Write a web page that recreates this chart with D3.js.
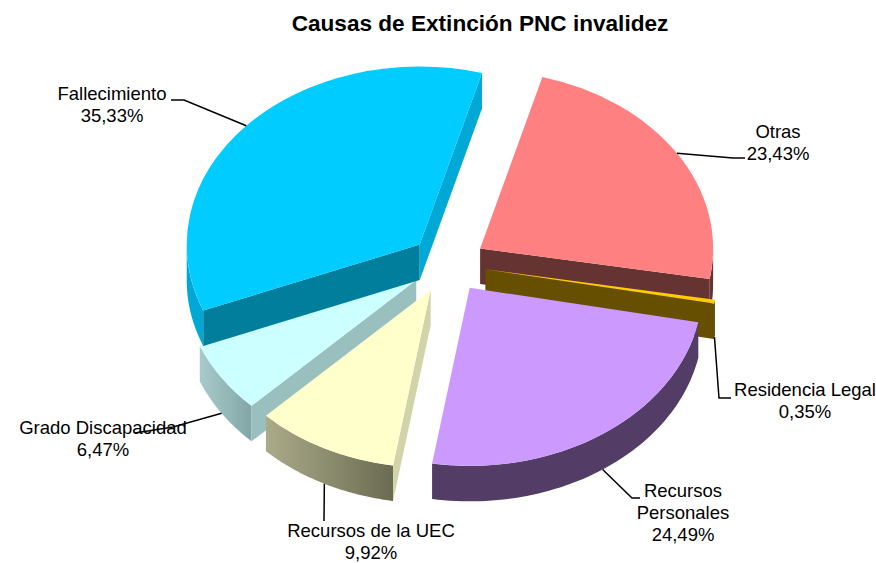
<!DOCTYPE html>
<html>
<head>
<meta charset="utf-8">
<script src="https://cdnjs.cloudflare.com/ajax/libs/d3/7.8.5/d3.min.js"></script>
<style>
  html, body { margin: 0; padding: 0; background: #fff; overflow: hidden; }
  svg { display: block; }
  text { font-family: "Liberation Sans", Arial, sans-serif; fill: #000; }
</style>
</head>
<body>
<div id="chart"></div>
<script>
const categories = ["Otras", "Residencia Legal", "Recursos Personales", "Recursos de la UEC", "Grado Discapacidad", "Fallecimiento"];
const values = [23.43, 0.35, 24.49, 9.92, 6.47, 35.33];
const valueLabels = ["23,43%", "0,35%", "24,49%", "9,92%", "6,47%", "35,33%"];

const topColors = ["#FF8080", "#FFCC00", "#CC99FF", "#FFFFCC", "#CCFFFF", "#00CCFF"];
const wallColors = ["#663333", "#665000", "#533D66", "url(#wallUec)", "url(#wallGrado)", "#00A8D6"];
const startCutColors = [null, null, null, "#D3D3AA", "#99BFBF", "#007E9C"];
const endCutColors = ["#663333", "#665000", null, null, null, "#00A8D6"];

// label lines and leader elbows per category
const labelLines = [["Otras"], ["Residencia Legal"], ["Recursos", "Personales"], ["Recursos de la UEC"], ["Grado Discapacidad"], ["Fallecimiento"]];
const labelSpots = [[778, 138], [805, 396], [683, 497], [371, 537], [103, 434], [112, 100]];
const leaderElbows = [[[733, 158], [745, 158]], [[719, 398], [731, 398]], [[632, 498], [640, 498]], [[324, 521]], [[173, 427], [135, 433]], [[184, 100], [171, 100]]];

const width = 876, height = 563;
const cx = 448, cy = 264;
const rx = 233, ry = 178, depth = 35.5, explode = 38;
const k = ry / rx;
const rad = Math.PI / 180;

const svg = d3.select("#chart").append("svg").attr("width", width).attr("height", height);

const defs = svg.append("defs");
function wallGradient(id, c0, c1) {
  const g = defs.append("linearGradient").attr("id", id);
  g.append("stop").attr("offset", "0%").attr("stop-color", c0);
  g.append("stop").attr("offset", "100%").attr("stop-color", c1);
}
wallGradient("wallUec", "#ABAB8A", "#6B6B52");
wallGradient("wallGrado", "#A8CACA", "#82A6A6");

svg.append("text")
  .attr("x", 480).attr("y", 31)
  .attr("text-anchor", "middle")
  .attr("font-size", 22.6).attr("font-weight", "bold")
  .text("Causas de Extinción PNC invalidez");

const pie = d3.pie().sort(null).startAngle(15.5 * rad).endAngle(375.5 * rad);
const slices = pie(values).map((d, i) => {
  const mid = (d.startAngle + d.endAngle) / 2;
  return {
    ...d, i, mid,
    ox: cx + Math.sin(mid) * explode,
    oy: cy - Math.cos(mid) * explode * k,
  };
});

const rimX = (a) => rx * Math.sin(a);
const rimY = (a) => -ry * Math.cos(a);
const line = d3.line();
const arc = d3.arc().innerRadius(0).outerRadius(rx);

function cutWall(a) {
  return line([[0, 0], [rimX(a), rimY(a)], [rimX(a), rimY(a) + depth], [0, depth]]) + "Z";
}

function outerWall(a0, a1) {
  const from = Math.max(a0, Math.PI / 2), to = Math.min(a1, Math.PI * 1.5);
  if (to <= from) return null;
  const t = d3.scaleLinear().domain([0, 60]).range([from, to]);
  const angles = d3.range(61).map(t);
  const pts = angles.map((a) => [rimX(a), rimY(a)])
    .concat(angles.slice().reverse().map((a) => [rimX(a), rimY(a) + depth]));
  return line(pts) + "Z";
}

// back to front
const drawOrder = [0, 1, 4, 5, 3, 2];
drawOrder.forEach((i) => {
  const s = slices[i];
  const g = svg.append("g").attr("transform", `translate(${s.ox},${s.oy})`);

  const wall = outerWall(s.startAngle, s.endAngle);
  if (wall) g.append("path").attr("d", wall).attr("fill", wallColors[i]);
  if (startCutColors[i]) g.append("path").attr("d", cutWall(s.startAngle)).attr("fill", startCutColors[i]);
  if (endCutColors[i]) g.append("path").attr("d", cutWall(s.endAngle)).attr("fill", endCutColors[i]);

  g.append("path")
    .attr("transform", `scale(1,${k})`)
    .attr("d", arc(s))
    .attr("fill", topColors[i]);
});

// labels
slices.forEach((s) => {
  const lines = labelLines[s.i].concat(valueLabels[s.i]);
  const [lx, ly] = labelSpots[s.i];
  svg.append("g").selectAll("text")
    .data(lines)
    .join("text")
    .attr("x", lx)
    .attr("y", (d, j) => ly + j * 22)
    .attr("text-anchor", "middle")
    .attr("font-size", 18.5)
    .text((d) => d);
});

// leaders start on the rim at mid angle, front slices at the foot of the wall
slices.forEach((s) => {
  const front = Math.cos(s.mid) < 0;
  const start = [s.ox + rimX(s.mid), s.oy + rimY(s.mid) + (front ? depth : 0)];
  svg.append("path")
    .attr("d", line([start, ...leaderElbows[s.i]]))
    .attr("fill", "none")
    .attr("stroke", "#000")
    .attr("stroke-width", 1.5);
});
</script>
</body>
</html>
